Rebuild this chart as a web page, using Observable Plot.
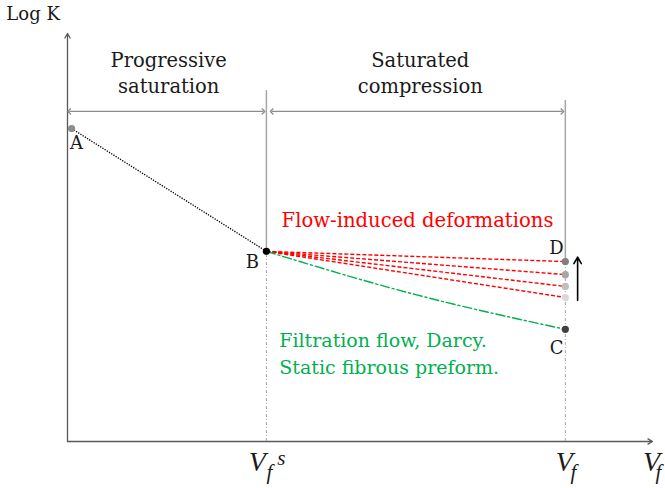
<!DOCTYPE html>
<html><head><meta charset="utf-8">
<script src="https://cdn.jsdelivr.net/npm/d3@7"></script>
<script src="https://cdn.jsdelivr.net/npm/@observablehq/plot@0.6"></script>
<style>body{margin:0;background:#fff}</style>
</head><body><div id="chart"></div>
<script>
// Schematic values (normalised units: Vf on 0..1, Log K on 0..1)
const vfSat = 0.34;          // Vf^s
const vfFinal = 0.851;       // Vf
const pointA = {vf: 0.007, logK: 0.767};
const pointB = {vf: 0.34, logK: 0.466};
const pointC = {vf: 0.851, logK: 0.275};
const deformLogK = [0.441, 0.409, 0.380, 0.353];
const deformColors = ["#7f7f7f", "#a6a6a6", "#bfbfbf", "#d9d9d9"];
const darcyCurve = [
  {vf: 0.34, logK: 0.466},
  {vf: 0.595, logK: 0.360},
  {vf: 0.851, logK: 0.275}
];
const regionLabels = ["Progressive\nsaturation", "Saturated\ncompression"];
const pointLabels = ["A", "B", "C", "D"];
const vfTicks = [vfSat, vfFinal, 1];

const serif = "DejaVu Serif";
const pxToVf = 1 / 585; // one pixel of the x range in Vf units
const deformLines = deformLogK.map(k => ({x1: pointB.vf, y1: pointB.logK, x2: vfFinal, y2: k}));
const deformDots = deformLogK.map((k, i) => ({vf: vfFinal, logK: k, c: deformColors[i]}));
const vShift = [-9, -1, -1], fShift = [3, 8, 6];

const chart = Plot.plot({
  width: 665, height: 488,
  marginTop: 0, marginRight: 0, marginBottom: 0, marginLeft: 0,
  x: {domain: [0, 1], range: [67, 652], axis: null},
  y: {domain: [0, 1], range: [441, 33], axis: null},
  style: {fontFamily: serif, background: "white"},
  marks: [
    // axes
    Plot.arrow([{x1: 0, y1: 0, x2: 1, y2: 0}], {x1: "x1", y1: "y1", x2: "x2", y2: "y2", stroke: "#595959", strokeWidth: 1.3, headLength: 6}),
    Plot.arrow([{x1: 0, y1: 0, x2: 0, y2: 1}], {x1: "x1", y1: "y1", x2: "x2", y2: "y2", stroke: "#595959", strokeWidth: 1.3, headLength: 6}),
    // vertical boundaries: solid above, dotted below
    Plot.ruleX([{vf: vfSat, y1: pointB.logK, y2: 0.860}], {x: "vf", y1: "y1", y2: "y2", stroke: "#a6a6a6", strokeWidth: 1.5}),
    Plot.ruleX([{vf: vfFinal, y1: deformLogK[0], y2: 0.836}], {x: "vf", y1: "y1", y2: "y2", stroke: "#a6a6a6", strokeWidth: 1.5}),
    Plot.ruleX([{vf: vfSat, y2: pointB.logK}, {vf: vfFinal, y2: deformLogK[0]}], {x: "vf", y1: 0, y2: "y2", stroke: "#a6a6a6", strokeWidth: 1, strokeDasharray: "3,2,1,2"}),
    // span arrows
    Plot.link([{x1: 0.003, x2: vfSat - 0.005}, {x1: vfSat + 0.009, x2: vfFinal - 0.005}], {
      x1: "x1", x2: "x2", y1: 0.809, y2: 0.809, stroke: "#8c8c8c", strokeWidth: 1.3,
      markerStart: "arrow-reverse", markerEnd: "arrow"}),
    // A-B dotted
    Plot.link([{x1: pointA.vf, y1: pointA.logK, x2: pointB.vf, y2: pointB.logK}], {x1: "x1", y1: "y1", x2: "x2", y2: "y2", stroke: "black", strokeWidth: 1.3, strokeDasharray: "1.3,1.3"}),
    // flow-induced deformation lines
    Plot.link(deformLines, {x1: "x1", y1: "y1", x2: "x2", y2: "y2", stroke: "#ff0000", strokeWidth: 1.4, strokeDasharray: "4,2"}),
    // Darcy curve
    Plot.line(darcyCurve, {x: "vf", y: "logK", curve: "natural", stroke: "#00b050", strokeWidth: 1.4, strokeDasharray: "9,3,2,3"}),
    // dots
    Plot.dot(deformDots, {x: "vf", y: "logK", fill: d => d.c, r: 3.6, stroke: null}),
    Plot.dot([pointA], {x: "vf", y: "logK", fill: "#8c8c8c", r: 3.6}),
    Plot.dot([pointC], {x: "vf", y: "logK", fill: "#404040", r: 3.6}),
    Plot.dot([pointB], {x: "vf", y: "logK", fill: "black", r: 3.6}),
    // upward arrow
    Plot.arrow([{x: 0.872, y1: 0.346, y2: 0.452}], {x1: "x", x2: "x", y1: "y1", y2: "y2", stroke: "black", strokeWidth: 1.6, headLength: 7}),
    // region labels
    Plot.text([regionLabels[0]], {x: 0.173, y: 0.907, text: d => d, fontSize: 19.5, lineHeight: 1.33, fill: "#1a1a1a"}),
    Plot.text([regionLabels[1]], {x: 0.603, y: 0.907, text: d => d, fontSize: 19.5, lineHeight: 1.33, fill: "#1a1a1a"}),
    // annotations
    Plot.text(["Flow-induced deformations"], {x: 0.366, y: 0.542, text: d => d, textAnchor: "start", fontSize: 19.6, fill: "#ff0000"}),
    Plot.text(["Filtration flow, Darcy.\nStatic fibrous preform."], {x: 0.362, y: 0.219, text: d => d, textAnchor: "start", fontSize: 19, lineHeight: 1.42, fill: "#00b050"}),
    // point labels
    Plot.text(pointLabels, {
      x: [0.0155, 0.316, 0.836, 0.836], y: [0.731, 0.439, 0.228, 0.473],
      text: d => d, fontSize: 18, fill: "#1a1a1a"}),
    // Log K
    Plot.text(["Log K"], {x: -0.1045, y: 1.046, text: d => d, textAnchor: "start", fontSize: 18, fill: "#1a1a1a"}),
    // Vf labels (italic V with subscript f)
    Plot.text(vfTicks, {x: vfTicks.map((v, i) => v + vShift[i] * pxToVf), y: -0.050, text: () => "V", fontFamily: "Liberation Serif", fontStyle: "italic", fontSize: 28, textAnchor: "middle", fill: "#1a1a1a"}),
    Plot.text(vfTicks, {x: vfTicks.map((v, i) => v + fShift[i] * pxToVf), y: -0.076, text: () => "f", fontFamily: "Liberation Serif", fontStyle: "italic", fontSize: 21, textAnchor: "middle", fill: "#1a1a1a"}),
    Plot.text([vfSat], {x: vfSat + 15 * pxToVf, y: -0.040, text: () => "s", fontFamily: "Liberation Serif", fontStyle: "italic", fontSize: 21, textAnchor: "middle", fill: "#1a1a1a"})
  ]
});
document.getElementById("chart").appendChild(chart);
</script></body></html>
